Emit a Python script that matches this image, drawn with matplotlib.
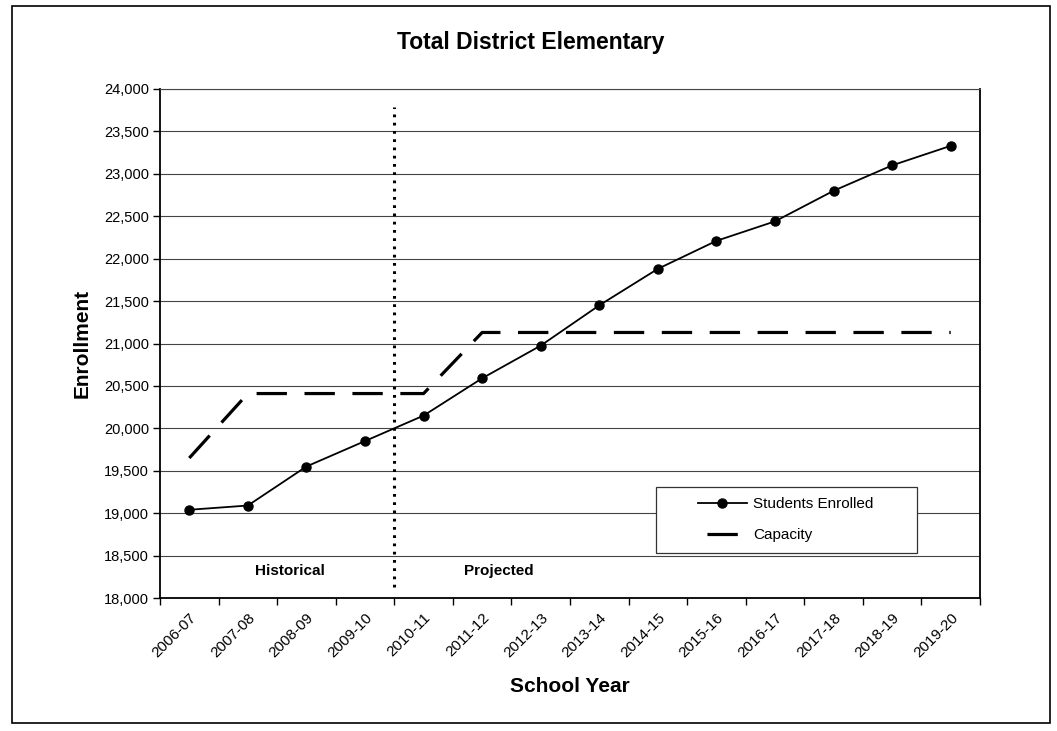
import matplotlib
matplotlib.use("Agg")
import matplotlib.pyplot as plt
from matplotlib.patches import Rectangle
from matplotlib.lines import Line2D
from matplotlib.ticker import FuncFormatter
import numpy as np

plt.rcParams['font.family'] = ['Liberation Sans', 'DejaVu Sans']

# data
years = ["2006-07", "2007-08", "2008-09", "2009-10", "2010-11", "2011-12", "2012-13",
         "2013-14", "2014-15", "2015-16", "2016-17", "2017-18", "2018-19", "2019-20"]
enrolled = [19040, 19090, 19550, 19850, 20150, 20590, 20975,
            21450, 21880, 22210, 22440, 22800, 23100, 23330]
capacity = [19650, 20410, 20410, 20410, 20410, 21130, 21130,
            21130, 21130, 21130, 21130, 21130, 21130, 21130]
split_at = 3.5          # between 2009-10 and 2010-11
split_span = (18130, 23790)

W, H = 1057, 731
fig = plt.figure(figsize=(W / 100, H / 100), dpi=100)
ax = fig.add_axes([160 / W, 1 - 598 / H, 820 / W, 509 / H])

x = np.arange(len(years))
ax.plot(x, enrolled, color="black", lw=1.3, marker="o", ms=6.5, zorder=4)
ax.plot(x, capacity, color="black", lw=2.3, linestyle=(0, (9.5, 5.5)), zorder=3)
ax.plot([split_at, split_at], split_span, color="black", lw=2.2,
        linestyle=(0, (0.9, 1.8)), zorder=3, clip_on=False)

ax.set_xlim(-0.5, len(years) - 0.5)
ax.set_ylim(18000, 24000)
ax.set_yticks(np.arange(18000, 24001, 500))
ax.yaxis.set_major_formatter(FuncFormatter(lambda v, p: f"{int(v):,}"))
ax.yaxis.grid(True, color="#444444", lw=0.8)
ax.set_axisbelow(True)

ax.set_xticks(x, years, rotation=45, ha="right", rotation_mode="anchor")
ax.set_xticks(np.arange(-0.5, len(years)), minor=True)
ax.tick_params(axis="x", which="major", length=0, pad=9, labelsize=11)
ax.tick_params(axis="x", which="minor", length=5, width=1, direction="out")
ax.tick_params(axis="y", length=5, width=1, direction="out", labelsize=10.5, pad=3)

for s in ["left", "bottom", "right"]:
    ax.spines[s].set_linewidth(1.3)
ax.spines["top"].set_linewidth(0.8)
ax.spines["top"].set_color("#444444")

ax.set_xlabel("School Year", fontsize=15, fontweight="bold", labelpad=12)
ax.set_ylabel("Enrollment", fontsize=15, fontweight="bold", labelpad=9)
# Excel centres the title on the whole chart area
fig.text(531 / W, 1 - 42 / H, "Total District Elementary", fontsize=16.5, fontweight="bold",
         ha="center", va="center")

ax.text(1.72, 18320, "Historical", fontsize=11, fontweight="bold", ha="center", va="center")
ax.text(5.28, 18320, "Projected", fontsize=11, fontweight="bold", ha="center", va="center")

# legend with a plain box behind it
ax.add_patch(Rectangle((0.605, 0.088), 0.318, 0.130, transform=ax.transAxes,
                       facecolor="white", edgecolor="#333333", lw=0.9, zorder=4.5))
handles = [Line2D([], [], color="black", lw=1.3, marker="o", ms=6.5),
           Line2D([], [], color="black", lw=2.3, linestyle=(12.2, (9.5, 5.5)))]
leg = ax.legend(handles, ["Students Enrolled", "Capacity"], loc="center left",
                bbox_to_anchor=(0.656, 0.154), frameon=False,
                fontsize=11, handlelength=3.2, handletextpad=0.4, labelspacing=1.1,
                borderpad=0, borderaxespad=0)
leg.set_zorder(6)

# outer chart border
fig.add_artist(Rectangle((12 / W, 1 - 723 / H), 1038 / W, 717 / H, transform=fig.transFigure,
                         fill=False, edgecolor="black", lw=1.2))

fig.savefig("out.png", dpi=100)
